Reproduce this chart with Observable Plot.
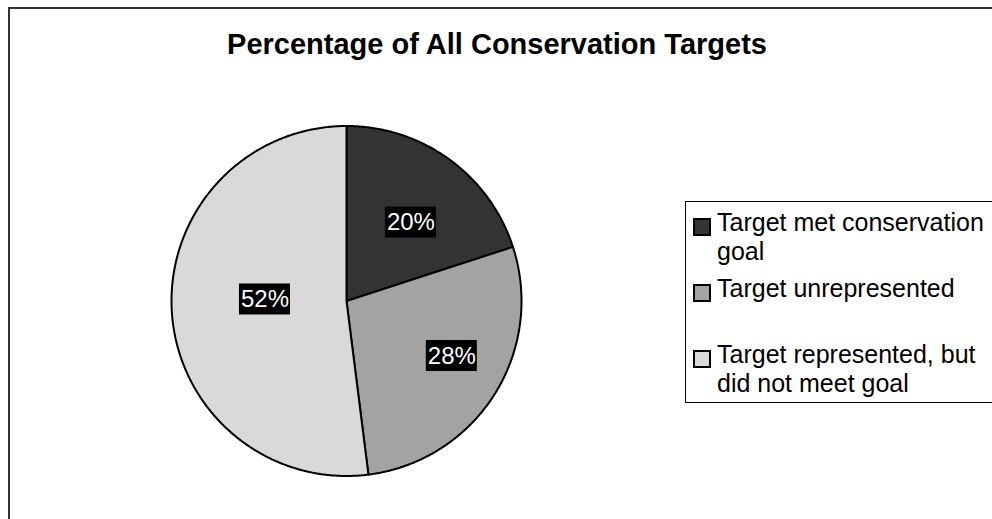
<!DOCTYPE html>
<html><head><meta charset="utf-8">
<script src="https://cdn.jsdelivr.net/npm/d3@7"></script>
<script src="https://cdn.jsdelivr.net/npm/@observablehq/plot@0.6"></script>
<style>
body{margin:0;background:#fff;font-family:Arial,"Liberation Sans",sans-serif;}
#wrap{position:relative;width:992px;height:519px;overflow:hidden;background:#fff;}
#chart{position:absolute;left:0;top:0;}
#frame{position:absolute;left:8px;top:7px;width:1100px;height:700px;border:2px solid #333;box-sizing:border-box;}
#title{position:absolute;left:0;width:994px;top:30px;text-align:center;font-weight:bold;font-size:29px;line-height:29px;color:#000;white-space:nowrap;}
#legend{position:absolute;left:685px;top:201px;width:400px;height:202px;border:1px solid #000;box-sizing:border-box;background:#fff;}
.item{position:absolute;left:0;}
.sw{position:absolute;left:7px;top:10px;width:18px;height:18px;border:2px solid #000;box-sizing:border-box;}
.tx{position:absolute;left:31px;top:0;width:275px;font-size:25px;line-height:28.5px;color:#000;}
</style>
</head><body>
<div id="wrap">
  <div id="chart"></div>
  <div id="frame"></div>
  <div id="title"></div>
  <div id="legend"></div>
</div>
<script>
const title = "Percentage of All Conservation Targets";
const categories = ["Target met conservation goal", "Target unrepresented", "Target represented, but did not meet goal"];
const values = [20, 28, 52];
const labels = ["20%", "28%", "52%"];
const colors = ["#333333", "#a3a3a3", "#d9d9d9"];

// layout (label placement inside each slice: fraction of its angle, fraction of radius)
const W = 992, H = 519;
const cx = 346, cy = 300.5, r = 175;
const labelAngleFrac = [0.547, 0.452, 0.525];
const labelRadius = [0.58, 0.679, 0.466];
const boxW = 51, boxH = 31;

const rows = categories.map((c, i) => ({category: c, value: values[i], label: labels[i]}));
const arcs = d3.pie().sort(null).value(d => d.value)(rows);

const pts = [];
const labelRows = [];
arcs.forEach((a, i) => {
  const c = a.data.category;
  pts.push({category: c, x: cx, y: cy});
  const n = Math.max(2, Math.ceil((a.endAngle - a.startAngle) / (Math.PI / 360)));
  for (let k = 0; k <= n; k++) {
    const t = a.startAngle + (a.endAngle - a.startAngle) * k / n;
    pts.push({category: c, x: cx + r * Math.sin(t), y: cy - r * Math.cos(t)});
  }
  pts.push({category: c, x: cx, y: cy});
  const m = a.startAngle + (a.endAngle - a.startAngle) * labelAngleFrac[i];
  const lr = r * labelRadius[i];
  labelRows.push({label: a.data.label, lx: cx + lr * Math.sin(m), ly: cy - lr * Math.cos(m)});
});

const plot = Plot.plot({
  width: W, height: H,
  margin: 0,
  style: {background: "transparent", fontFamily: "Arial, 'Liberation Sans', sans-serif"},
  x: {domain: [0, W], range: [0, W], axis: null},
  y: {domain: [0, H], range: [0, H], axis: null},
  color: {type: "ordinal", domain: categories, range: colors},
  marks: [
    Plot.line(pts, {x: "x", y: "y", z: "category", fill: "category", stroke: "#000", strokeWidth: 2, strokeLinejoin: "round"}),
    Plot.rect(labelRows, {x1: d => d.lx - boxW / 2, x2: d => d.lx + boxW / 2, y1: d => d.ly - boxH / 2, y2: d => d.ly + boxH / 2, fill: "#000", inset: 0}),
    Plot.text(labelRows, {x: "lx", y: "ly", text: "label", fill: "#fff", fontSize: 24})
  ]
});
document.getElementById("chart").appendChild(plot);
document.getElementById("title").textContent = title;

const legend = document.getElementById("legend");
categories.forEach((c, i) => {
  const it = document.createElement("div");
  it.className = "item";
  it.style.top = (6 + i * 66) + "px";
  const sw = document.createElement("div");
  sw.className = "sw";
  sw.style.background = colors[i];
  const tx = document.createElement("div");
  tx.className = "tx";
  tx.textContent = c;
  it.appendChild(sw); it.appendChild(tx);
  legend.appendChild(it);
});
</script>
</body></html>
